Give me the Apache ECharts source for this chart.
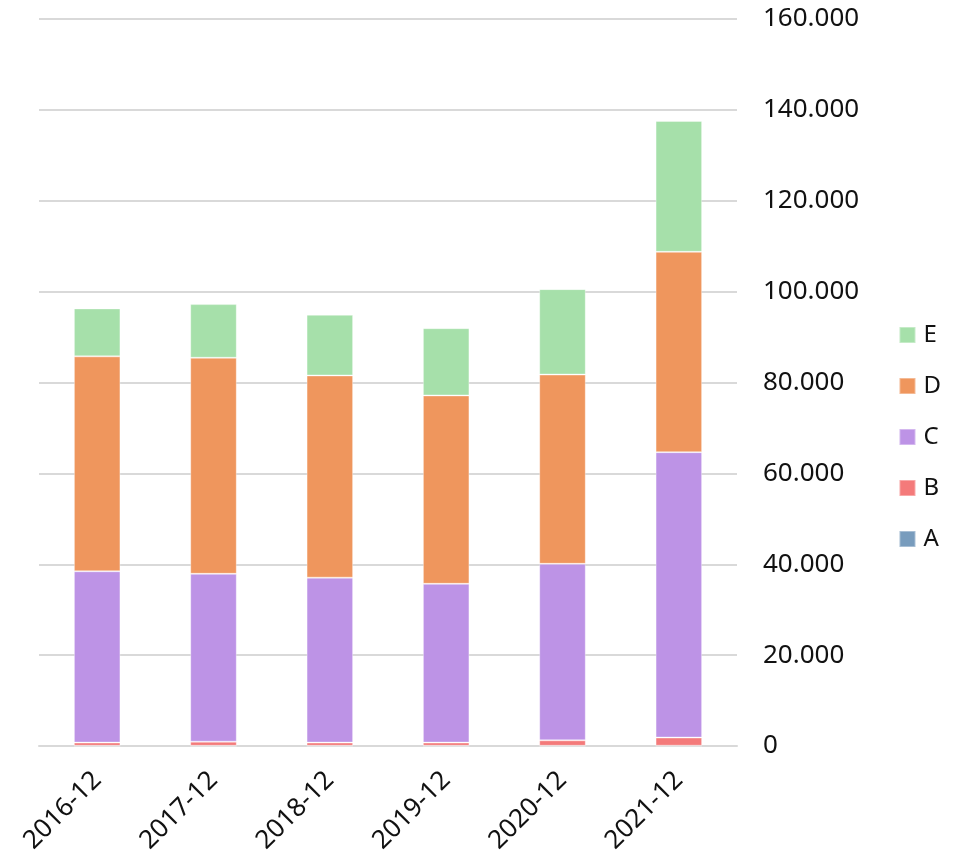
<!DOCTYPE html>
<html><head><meta charset="utf-8">
<script src="https://cdn.jsdelivr.net/npm/echarts@6/dist/echarts.min.js"></script>
<style>html,body{margin:0;padding:0;background:#fff}#c{width:958px;height:857px}</style>
</head><body><div id="c"></div>
<script>
const categories = ['2016-12','2017-12','2018-12','2019-12','2020-12','2021-12'];
const seriesA = [50, 50, 50, 50, 50, 60];
const seriesB = [700, 900, 700, 700, 1200, 1800];
const seriesC = [37700, 36950, 36300, 34950, 38850, 62800];
const seriesD = [47300, 47550, 44500, 41450, 41650, 44100];
const seriesE = [10550, 11800, 13350, 14800, 18800, 28800];
const yTicks = {min: 0, max: 160000, interval: 20000};

const names = ['A','B','C','D','E'];
const values = [seriesA, seriesB, seriesC, seriesD, seriesE];
const colors = ['#789cbd','#f47a7a','#bd93e6','#ef965d','#a6e0aa'];
const font = 'Noto Sans';

const chart = echarts.init(document.getElementById('c'));
chart.setOption({
  animation: false,
  textStyle: {fontFamily: font},
  grid: {left: 39, right: 221, top: 19, bottom: 111},
  legend: {
    orient: 'vertical', right: 12, top: 318,
    data: ['E','D','C','B','A'],
    itemWidth: 16, itemHeight: 16, itemGap: 27,
    icon: 'rect',
    textStyle: {fontSize: 24, color: '#111', fontFamily: font, padding: [0, 0, 0, 3]}
  },
  xAxis: {
    type: 'category', data: categories,
    axisLine: {lineStyle: {color: '#d9d9d9', width: 2}},
    axisTick: {show: false},
    axisLabel: {rotate: 45, fontSize: 26, color: '#111', margin: 30, fontFamily: font}
  },
  yAxis: {
    type: 'value', position: 'right',
    min: yTicks.min, max: yTicks.max, interval: yTicks.interval,
    axisLine: {show: false}, axisTick: {show: false},
    splitLine: {lineStyle: {color: '#d9d9d9', width: 2}},
    axisLabel: {
      fontSize: 26, color: '#111', margin: 26, fontFamily: font,
      formatter: v => String(v).replace(/\B(?=(\d{3})+(?!\d))/g, '.')
    }
  },
  series: names.map((n, i) => ({
    name: n, type: 'bar', stack: 'total', data: values[i],
    barWidth: '40%',
    itemStyle: {color: colors[i], borderColor: 'rgba(255,255,255,0.35)', borderWidth: 1}
  }))
});
</script></body></html>
